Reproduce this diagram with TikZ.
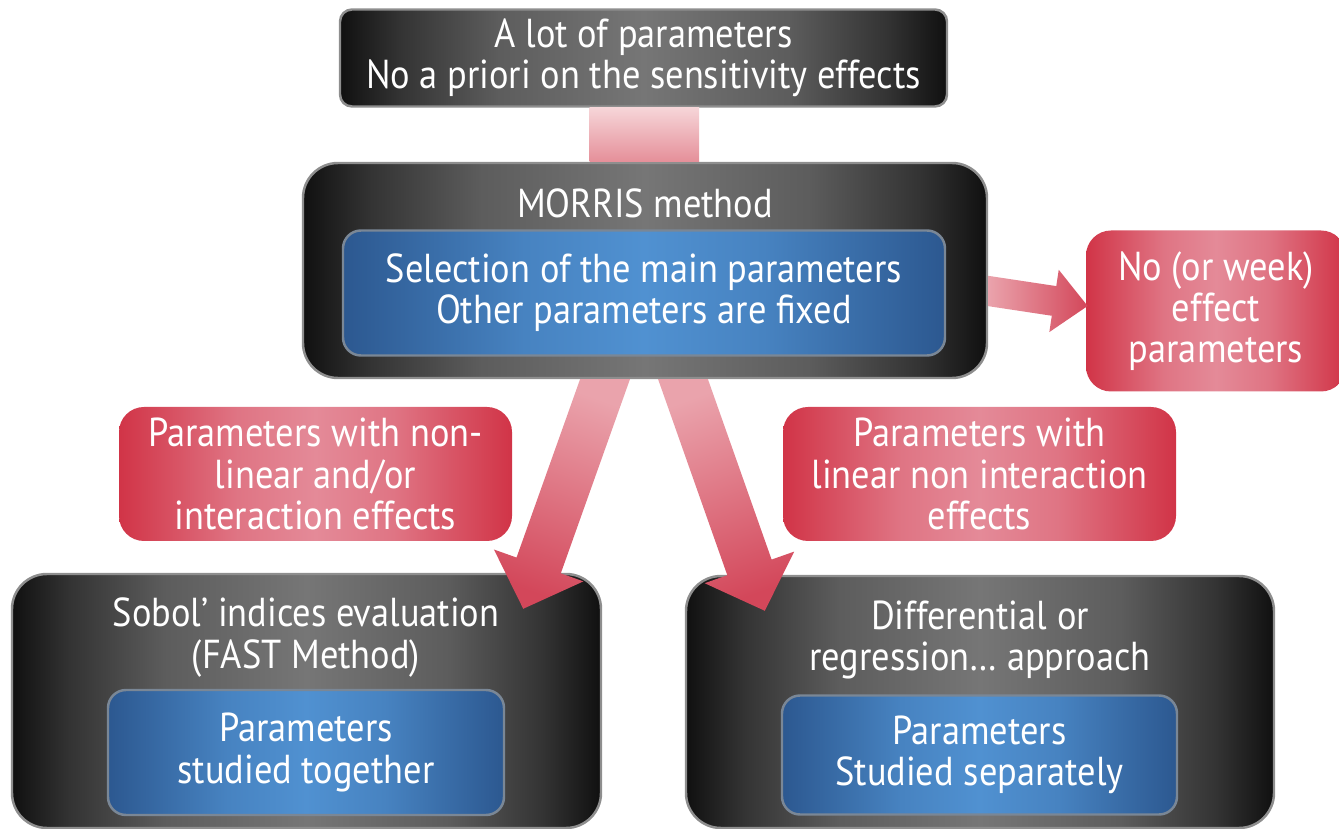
\documentclass[tikz,border=0pt]{standalone}
\usepackage{fontspec}
\setmainfont{PT Sans}[FakeStretch=0.9]
\usetikzlibrary{calc}

\definecolor{darkin}{HTML}{767676}
\definecolor{darkout}{HTML}{101010}
\definecolor{boxline}{HTML}{8E8E8E}
\definecolor{bluein}{HTML}{5091D1}
\definecolor{blueout}{HTML}{2C5890}
\definecolor{blueline}{HTML}{7A8796}
\definecolor{redin}{HTML}{E48A98}
\definecolor{redout}{HTML}{D13447}
\definecolor{arrowlight}{HTML}{EAA3AC}
\definecolor{arrowdark}{HTML}{D3475A}
\definecolor{linktop}{HTML}{F6D5D8}
\definecolor{linkbottom}{HTML}{E58F99}

% light in the middle, dark at both sides
\pgfdeclarehorizontalshading{darkbar}{100bp}{color(0bp)=(darkout); color(25bp)=(darkout);
    color(30bp)=(darkin!35!darkout); color(38bp)=(darkin!75!darkout); color(50bp)=(darkin);
    color(62bp)=(darkin!75!darkout); color(70bp)=(darkin!35!darkout); color(75bp)=(darkout); color(100bp)=(darkout)}
\pgfdeclarehorizontalshading{bluebar}{100bp}{color(0bp)=(blueout); color(25bp)=(blueout);
    color(32bp)=(bluein!35!blueout); color(40bp)=(bluein!75!blueout); color(50bp)=(bluein);
    color(60bp)=(bluein!75!blueout); color(68bp)=(bluein!35!blueout); color(75bp)=(blueout); color(100bp)=(blueout)}
\pgfdeclarehorizontalshading{redbar}{100bp}{color(0bp)=(redout); color(25bp)=(redout);
    color(32bp)=(redin!35!redout); color(40bp)=(redin!75!redout); color(50bp)=(redin);
    color(60bp)=(redin!75!redout); color(68bp)=(redin!35!redout); color(75bp)=(redout); color(100bp)=(redout)}

% fat arrow: style, tail, tip, half shaft, half head, head length, border line
\newcommand{\blockarrow}[8]{%
    \coordinate (n) at ($(#3)!#6!(#2)$);
    \coordinate (nl) at ($(n)!#4!90:(#3)$);
    \coordinate (nr) at ($(n)!#4!-90:(#3)$);
    \coordinate (hl) at ($(n)!#5!90:(#3)$);
    \coordinate (hr) at ($(n)!#5!-90:(#3)$);
    \coordinate (tl) at ($(#2)!#4!90:(#3)$);
    \coordinate (tr) at ($(#2)!#4!-90:(#3)$);
    \path[#1] (intersection of nl--tl and #7--#8) -- (nl) -- (hl) -- (#3)
        -- (hr) -- (nr) -- (intersection of nr--tr and #7--#8) -- cycle;
}

\begin{document}
\begin{tikzpicture}[
    every node/.style={text=white, align=center, inner sep=0pt,
        font=\fontsize{23}{23.4}\selectfont},
    darkbox/.style={draw=boxline, line width=1.4pt, rounded corners=0.7cm,
        shade, shading=darkbar},
    bluebox/.style={draw=blueline, line width=1.4pt, rounded corners=0.36cm,
        shade, shading=bluebar},
    redbox/.style={rounded corners=0.5cm, shade, shading=redbar},
    arrowfill/.style={top color=arrowlight, bottom color=arrowdark}
]
    \clip (0,0) rectangle (26.78,-16.58);

    % Starting point
    \node[darkbox, rounded corners=0.24cm, minimum width=12.14cm, minimum height=1.94cm]
        (start) at (12.87,-1.16) {A lot of parameters\\No a priori on the sensitivity effects};

    % Morris screening
    \node[darkbox, minimum width=13.68cm, minimum height=4.3cm] (morris) at (12.9,-5.41) {};
    \node (morrisTitle) at (12.9,-4.06) {MORRIS method};
    \node[bluebox, minimum width=12.04cm, minimum height=2.5cm]
        (selection) at (12.88,-5.86) {Selection of the main parameters\\Other parameters are fixed};

    \path[top color=linktop, bottom color=linkbottom]
        ($(start.south)+(-1.08,0)$) rectangle ($(morris.north)+(1.08,0)$);

    % Kinds of effects
    \node[redbox, minimum width=5.2cm, minimum height=3.22cm]
        (noeffect) at (24.32,-6.22) {No (or week)\\effect\\parameters};
    \node[redbox, minimum width=7.86cm, minimum height=2.68cm]
        (nonlinear) at (6.31,-9.48) {Parameters with non-\\linear and/or\\interaction effects};
    \node[redbox, minimum width=7.86cm, minimum height=2.68cm]
        (linear) at (19.59,-9.48) {Parameters with\\linear non interaction\\effects};

    % Sobol' indices
    \node[darkbox, minimum width=11.78cm, minimum height=5.08cm] (sobol) at (6.13,-14.02) {};
    \node (sobolTitle) at (6.12,-12.75) {Sobol’ indices evaluation\\(FAST Method)};
    \node[bluebox, minimum width=7.92cm, minimum height=2.5cm]
        (together) at (6.12,-15.05) {Parameters\\studied together};

    % Differential / regression
    \node[darkbox, minimum width=11.76cm, minimum height=5.04cm] (regression) at (19.6,-14.04) {};
    \node (regressionTitle) at (19.6,-12.8) {Differential or\\regression… approach};
    \node[bluebox, minimum width=7.9cm, minimum height=2.38cm]
        (separately) at (19.59,-15.1) {Parameters\\Studied separately};

    % Arrows out of the Morris box
    \coordinate (tailE) at ($(morris.east)+(0,-0.41)$);
    \coordinate (tipE) at ($(noeffect.west)+(0.04,0.1)$);
    \coordinate (tailL) at ($(morris.south)+(-0.8,0)$);
    \coordinate (tipL) at ($(sobol.north east)+(-1.58,-0.72)$);
    \coordinate (tailR) at ($(morris.south)+(0.76,0)$);
    \coordinate (tipR) at ($(regression.north west)+(1.6,-0.72)$);

    \blockarrow{left color=arrowlight, right color=arrowdark}{tailE}{tipE}{0.3cm}{0.63cm}{0.68cm}{morris.north east}{morris.south east}
    \blockarrow{arrowfill, shading angle=-20}{tailL}{tipL}{0.47cm}{0.95cm}{0.92cm}{morris.south west}{morris.south east}
    \blockarrow{arrowfill, shading angle=20}{tailR}{tipR}{0.47cm}{0.95cm}{0.92cm}{morris.south west}{morris.south east}
\end{tikzpicture}
\end{document}
